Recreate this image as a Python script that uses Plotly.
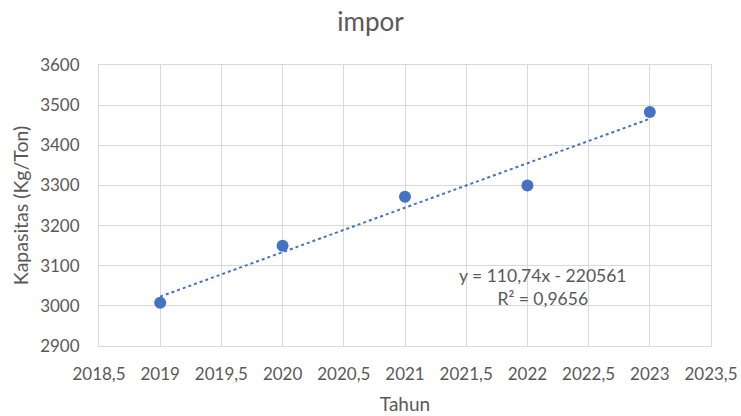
import numpy as np
import plotly.graph_objects as go

years = [2019, 2020, 2021, 2022, 2023]
kapasitas = [3008, 3150, 3272, 3300, 3483]
slope = 110.74
intercept = -220561
eq_label = "y = 110,74x - 220561"
r2_label = "R² = 0,9656"
x_ticks = [2018.5, 2019, 2019.5, 2020, 2020.5, 2021, 2021.5, 2022, 2022.5, 2023, 2023.5]
x_ticklabels = ["2018,5", "2019", "2019,5", "2020", "2020,5", "2021", "2021,5", "2022", "2022,5", "2023", "2023,5"]
y_ticks = [2900, 3000, 3100, 3200, 3300, 3400, 3500, 3600]

blue = "#4472C4"
grey_text = "#595959"
grid = "#d9d9d9"
font_family = "Lato, 'Open Sans', sans-serif"

trend_x = np.array([years[0], years[-1]], dtype=float)
trend_y = slope * trend_x + intercept

fig = go.Figure()
fig.add_trace(go.Scatter(x=trend_x, y=trend_y, mode="lines",
                         line=dict(color=blue, width=2, dash="dot"),
                         showlegend=False, hoverinfo="skip"))
fig.add_trace(go.Scatter(x=years, y=kapasitas, mode="markers",
                         marker=dict(color=blue, size=12),
                         showlegend=False))

fig.add_annotation(x=2022.13, y=3048, xref="x", yref="y",
                   text=eq_label + "<br>" + r2_label, showarrow=False,
                   align="center", font=dict(size=17.5, color=grey_text, family=font_family))

fig.update_layout(
    width=741, height=416,
    margin=dict(l=99, r=30, t=65, b=70, autoexpand=False),
    paper_bgcolor="white", plot_bgcolor="white",
    font=dict(family=font_family, color=grey_text, size=17),
    title=dict(text="impor", x=0.5, xanchor="center", y=1 - 22 / 416, yanchor="middle",
               font=dict(size=26, color=grey_text, family=font_family)),
)
fig.update_xaxes(range=[2018.5, 2023.5], tickvals=x_ticks, ticktext=x_ticklabels,
                 automargin=False,
                 showgrid=True, gridcolor=grid, gridwidth=1,
                 showline=True, linecolor=grid, mirror=True, zeroline=False,
                 tickfont=dict(size=17, color=grey_text), ticks="", ticklabelstandoff=13,
                 title=dict(text="Tahun", font=dict(size=19, color=grey_text), standoff=14))
fig.update_yaxes(range=[2900, 3600], tickvals=y_ticks,
                 automargin=False,
                 showgrid=True, gridcolor=grid, gridwidth=1,
                 showline=True, linecolor=grid, mirror=True, zeroline=False,
                 tickfont=dict(size=17, color=grey_text), ticks="", ticklabelstandoff=15,
                 title=dict(text="Kapasitas (Kg/Ton)", font=dict(size=19.5, color=grey_text), standoff=6))

fig.write_html("out.html")
